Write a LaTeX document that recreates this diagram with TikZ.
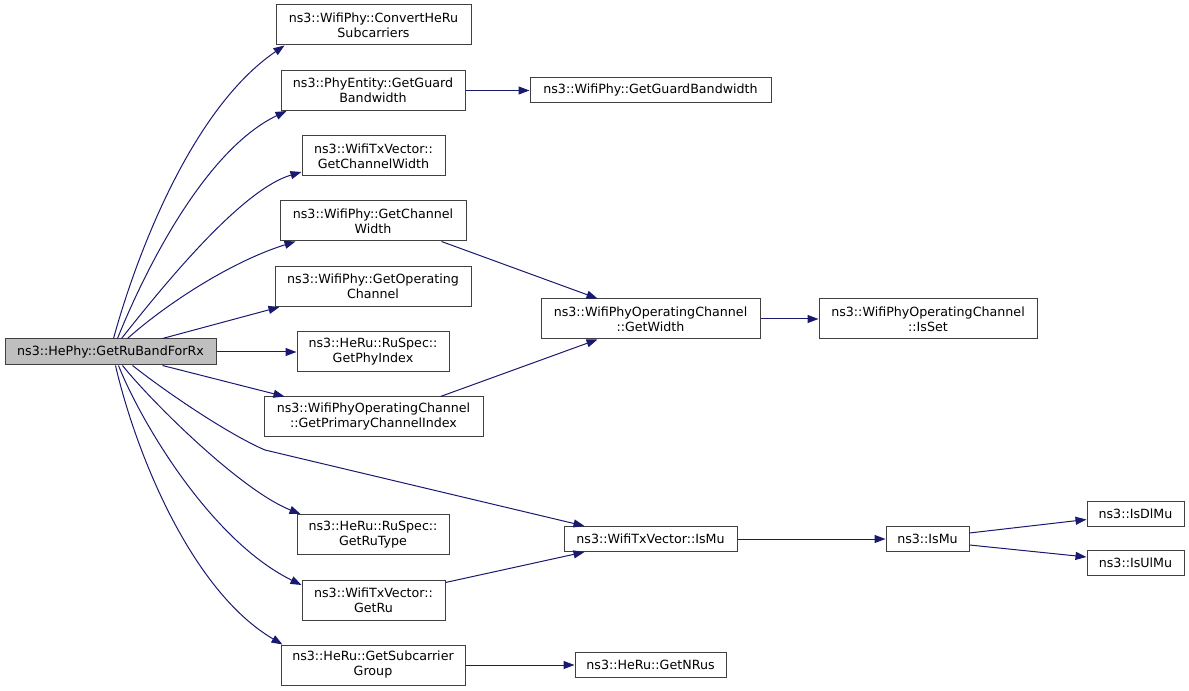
\documentclass[tikz,border=0pt]{standalone}
\usepackage{fontspec}
\setmainfont{DejaVu Sans}
\usetikzlibrary{calc,arrows.meta}
\definecolor{edgeblue}{HTML}{191970}
\definecolor{boxborder}{HTML}{404040}
\definecolor{rootfill}{HTML}{BFBFBF}
\tikzset{
  fnbox/.style={draw=boxborder, line width=0.75pt, fill=white, rectangle, inner sep=0pt, align=center, minimum height=30pt},
  onebox/.style={fnbox, minimum height=18.75pt},
  rootbox/.style={fnbox, fill=rootfill, minimum height=19.5pt},
  call/.style={draw=edgeblue, line width=0.75pt, -{Triangle[length=8.25pt,width=6pt]}}
}
\begin{document}
\begin{tikzpicture}[x=0.75pt,y=-0.75pt,font=\fontsize{9.5}{11.25}\selectfont]
\useasboundingbox (0,0) rectangle (1189,691);
% nodes
\node[rootbox, minimum width=158.25pt] (A) at (110.5,352) {ns3::HePhy::GetRuBandForRx};
\node[fnbox, minimum width=146.25pt] (B1) at (373.5,25) {ns3::WifiPhy::ConvertHeRu\\Subcarriers};
\node[fnbox, minimum width=138pt] (B2) at (373,90.5) {ns3::PhyEntity::GetGuard\\Bandwidth};
\node[fnbox, minimum width=107.25pt] (B3) at (373.5,156) {ns3::WifiTxVector::\\GetChannelWidth};
\node[fnbox, minimum width=139.5pt] (B4) at (373,221) {ns3::WifiPhy::GetChannel\\Width};
\node[fnbox, minimum width=147pt] (B5) at (373,286.5) {ns3::WifiPhy::GetOperating\\Channel};
\node[fnbox, minimum width=114pt] (B6) at (373,352) {ns3::HeRu::RuSpec::\\GetPhyIndex};
\node[fnbox, minimum width=164.25pt] (B7) at (373.5,417) {ns3::WifiPhyOperatingChannel\\::GetPrimaryChannelIndex};
\node[fnbox, minimum width=114pt] (B8) at (373,534.5) {ns3::HeRu::RuSpec::\\GetRuType};
\node[fnbox, minimum width=107.25pt] (B9) at (373.5,600) {ns3::WifiTxVector::\\GetRu};
\node[fnbox, minimum width=138pt] (B10) at (373,665) {ns3::HeRu::GetSubcarrier\\Group};
\node[onebox, minimum width=180.75pt] (C1) at (650.5,90.5) {ns3::WifiPhy::GetGuardBandwidth};
\node[fnbox, minimum width=164.25pt] (C2) at (650.5,319) {ns3::WifiPhyOperatingChannel\\::GetWidth};
\node[fnbox, minimum width=163.5pt] (D1) at (928,319) {ns3::WifiPhyOperatingChannel\\::IsSet};
\node[onebox, minimum width=129.75pt] (C3) at (650.5,539) {ns3::WifiTxVector::IsMu};
\node[onebox, minimum width=62.25pt] (D2) at (927.5,539) {ns3::IsMu};
\node[onebox, minimum width=72.75pt] (E1) at (1135.5,513.5) {ns3::IsDlMu};
\node[onebox, minimum width=72.75pt] (E2) at (1135.5,563) {ns3::IsUlMu};
\node[onebox, minimum width=113.25pt] (C4) at (650.5,665) {ns3::HeRu::GetNRus};
% connectors from root
\draw[call] ($(A.north west)+(109,0)$) .. controls (135,260) and (190,110) .. ($(B1.south west)+(9,0)$);
\draw[call] ($(A.north west)+(113,0)$) .. controls (145,270) and (205,150) .. ($(B2.south west)+(6,0)$);
\draw[call] ($(A.north west)+(117,0)$) .. controls (160,290) and (240,190) .. ($(B3.west)+(0,16)$);
\draw[call] ($(A.north west)+(123,0)$) .. controls (165,305) and (230,262) .. ($(B4.south west)+(16,0)$);
\draw[call] ($(A.north west)+(158,0)$) -- ($(B5.south west)+(5,0)$);
\draw[call] (A.east) -- (B6.west);
\draw[call] ($(A.south west)+(158,0)$) -- ($(B7.north west)+(21,0)$);
\draw[call] ($(A.south west)+(128,0)$) .. controls (170,395) and (230,435) .. (265,450) -- ($(C3.north west)+(21,0)$);
\draw[call] ($(A.south west)+(118,0)$) .. controls (150,400) and (240,490) .. ($(B8.north west)+(4,0)$);
\draw[call] ($(A.south west)+(114,0)$) .. controls (140,420) and (210,540) .. ($(B9.west)+(0,-15)$);
\draw[call] ($(A.south west)+(111,0)$) .. controls (135,450) and (190,590) .. ($(B10.north west)+(2,0)$);
% further connectors
\draw[call] (B2.east) -- (C1.west);
\draw[call] ($(B4.south west)+(162,0)$) -- ($(C2.north west)+(57,0)$);
\draw[call] ($(B7.north west)+(177,0)$) -- ($(C2.south west)+(57,0)$);
\draw[call] (C2.east) -- (D1.west);
\draw[call] (C3.east) -- (D2.west);
\draw[call] ($(B9.north east)+(0,3)$) -- ($(C3.south west)+(21,0)$);
\draw[call] ($(D2.east)+(0,-6)$) -- ($(E1.west)+(0,6)$);
\draw[call] ($(D2.east)+(0,6)$) -- ($(E2.west)+(0,-6)$);
\draw[call] (B10.east) -- (C4.west);
\end{tikzpicture}
\end{document}
